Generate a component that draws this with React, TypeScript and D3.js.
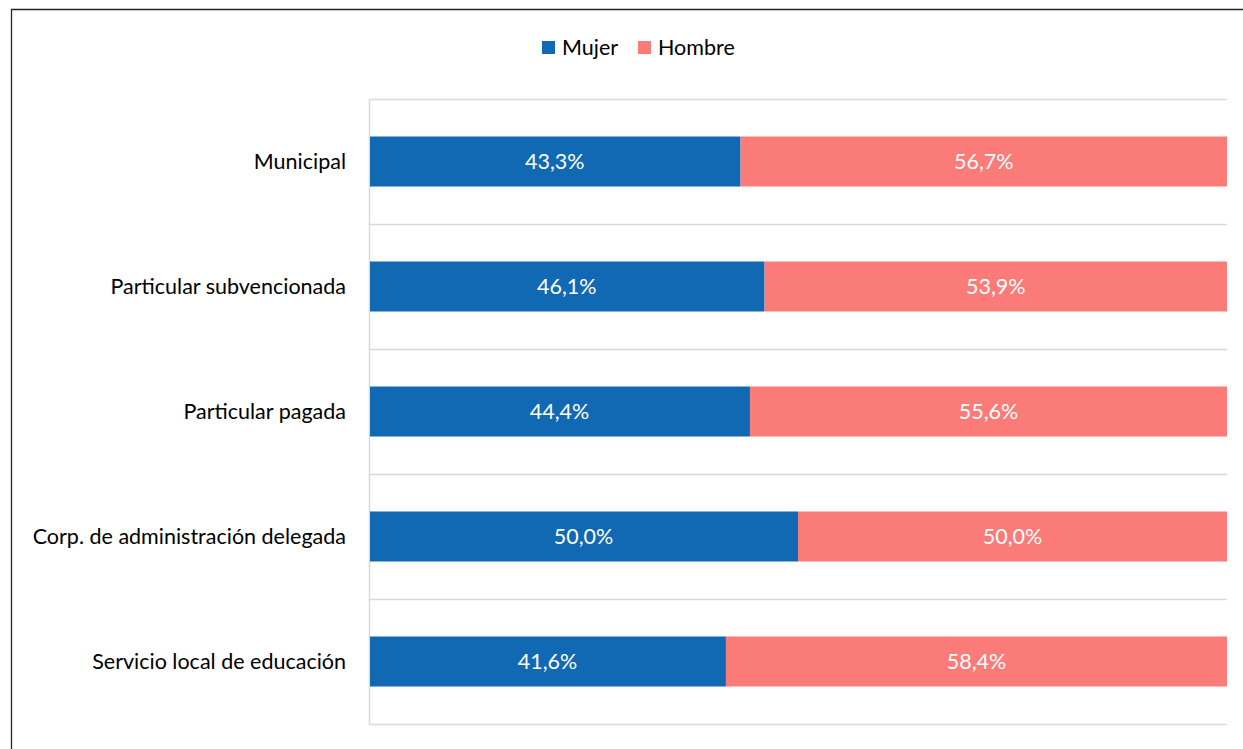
import React, { useEffect, useRef } from "react";
import * as d3 from "d3";

const categories = [
  "Municipal",
  "Particular subvencionada",
  "Particular pagada",
  "Corp. de administración delegada",
  "Servicio local de educación",
];
const mujer = [43.3, 46.1, 44.4, 50.0, 41.6];
const hombre = [56.7, 53.9, 55.6, 50.0, 58.4];
const seriesNames = ["Mujer", "Hombre"];
const colors = ["#1169B3", "#FA7B78"];

const FONT = "Lato, 'Noto Sans', sans-serif";
const FS = "21.5px";

const App: React.FC = () => {
  const svgRef = useRef<SVGSVGElement>(null);

  useEffect(() => {
    if (!svgRef.current) return;
    const width = 1243;
    const height = 749;
    const svg = d3.select(svgRef.current);
    svg.selectAll("*").remove();
    svg.attr("width", width).attr("height", height);

    // outer frame (top + left edge visible)
    svg
      .append("path")
      .attr("d", `M11.5,${height} V9.5 H${width}`)
      .attr("fill", "none")
      .attr("stroke", "#262626")
      .attr("stroke-width", 1.3);

    const margin = { top: 99, right: 16, bottom: 25, left: 369 };
    const innerW = width - margin.left - margin.right;
    const innerH = height - margin.top - margin.bottom;

    const g = svg
      .append("g")
      .attr("transform", `translate(${margin.left},${margin.top})`);

    const x = d3.scaleLinear().domain([0, 100]).range([0, innerW]);
    const y = d3
      .scaleBand<string>()
      .domain(categories)
      .range([0, innerH])
      .paddingInner(0.6)
      .paddingOuter(0.3);

    // category grid lines
    const bounds = d3
      .range(categories.length + 1)
      .map((i) => i * (innerH / categories.length));
    g.selectAll("line.grid")
      .data(bounds)
      .enter()
      .append("line")
      .attr("class", "grid")
      .attr("x1", 0)
      .attr("x2", innerW)
      .attr("y1", (d) => Math.round(d) + 0.5)
      .attr("y2", (d) => Math.round(d) + 0.5)
      .attr("stroke", "#d9d9d9")
      .attr("stroke-width", 1.5);

    g.append("line")
      .attr("x1", 0.5)
      .attr("x2", 0.5)
      .attr("y1", 0)
      .attr("y2", innerH + 1)
      .attr("stroke", "#d9d9d9")
      .attr("stroke-width", 1.5);

    const rows = categories.map((c, i) => ({ c, m: mujer[i], h: hombre[i] }));

    const bh = y.bandwidth();
    const rowG = g
      .selectAll("g.row")
      .data(rows)
      .enter()
      .append("g")
      .attr("class", "row")
      .attr("transform", (d) => `translate(0,${y(d.c)})`);

    rowG
      .append("rect")
      .attr("x", x(0) + 1)
      .attr("y", 0)
      .attr("width", (d) => x(d.m) - 1)
      .attr("height", bh)
      .attr("fill", colors[0]);

    rowG
      .append("rect")
      .attr("x", (d) => x(d.m))
      .attr("y", 0)
      .attr("width", (d) => x(d.m + d.h) - x(d.m))
      .attr("height", bh)
      .attr("fill", colors[1]);

    const fmt = (v: number) => v.toFixed(1).replace(".", ",") + "%";

    rowG
      .append("text")
      .attr("x", (d) => x(d.m / 2))
      .attr("y", bh / 2)
      .attr("dy", "0.35em")
      .attr("text-anchor", "middle")
      .attr("fill", "white")
      .style("font-family", FONT)
      .style("font-size", FS)
      .text((d) => fmt(d.m));

    rowG
      .append("text")
      .attr("x", (d) => x(d.m + d.h / 2))
      .attr("y", bh / 2)
      .attr("dy", "0.35em")
      .attr("text-anchor", "middle")
      .attr("fill", "white")
      .style("font-family", FONT)
      .style("font-size", FS)
      .text((d) => fmt(d.h));

    // category labels
    g.selectAll("text.cat")
      .data(categories)
      .enter()
      .append("text")
      .attr("class", "cat")
      .attr("x", -23)
      .attr("y", (d) => (y(d) as number) + bh / 2)
      .attr("dy", "0.35em")
      .attr("text-anchor", "end")
      .attr("fill", "#000")
      .style("font-family", FONT)
      .style("font-size", FS)
      .text((d) => d);

    // legend
    const legendX = [542, 638];
    const leg = svg
      .selectAll("g.legend")
      .data(seriesNames)
      .enter()
      .append("g")
      .attr("class", "legend")
      .attr("transform", (d, i) => `translate(${legendX[i]},41)`);
    leg
      .append("rect")
      .attr("width", 13)
      .attr("height", 13)
      .attr("fill", (d, i) => colors[i]);
    leg
      .append("text")
      .attr("x", 20)
      .attr("y", 13.5)
      .attr("fill", "#000")
      .style("font-family", FONT)
      .style("font-size", FS)
      .text((d) => d);
  }, []);

  return (
    <svg
      ref={svgRef}
      style={{ position: "absolute", left: 0, top: 0, background: "white" }}
    ></svg>
  );
};

export default App;
